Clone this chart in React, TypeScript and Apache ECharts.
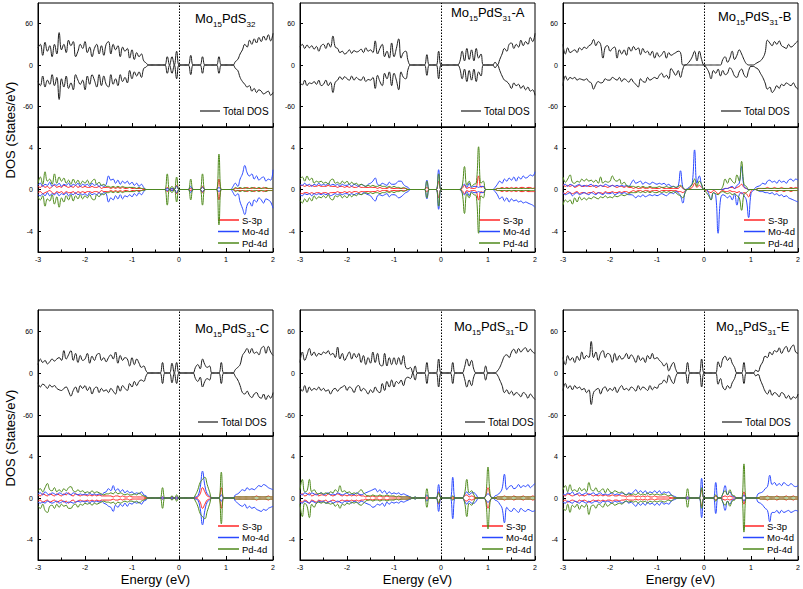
import React, { useEffect, useRef } from "react";
import * as echarts from "echarts";

const ENERGY = [-3,-2.95,-2.9,-2.85,-2.8,-2.75,-2.7,-2.65,-2.6,-2.55,-2.5,-2.45,-2.4,-2.35,-2.3,-2.25,-2.2,-2.15,-2.1,-2.05,-2,-1.95,-1.9,-1.85,-1.8,-1.75,-1.7,-1.65,-1.6,-1.55,-1.5,-1.45,-1.4,-1.35,-1.3,-1.25,-1.2,-1.15,-1.1,-1.05,-1,-0.95,-0.9,-0.85,-0.8,-0.75,-0.7,-0.65,-0.6,-0.55,-0.5,-0.45,-0.4,-0.35,-0.3,-0.25,-0.2,-0.15,-0.1,-0.05,0,0.05,0.1,0.15,0.2,0.25,0.3,0.35,0.4,0.45,0.5,0.55,0.6,0.65,0.7,0.75,0.8,0.85,0.9,0.95,1,1.05,1.1,1.15,1.2,1.25,1.3,1.35,1.4,1.45,1.5,1.55,1.6,1.65,1.7,1.75,1.8,1.85,1.9,1.95,2];

const X_TICKS = [-3, -2, -1, 0, 1, 2];
const TOT_TICKS = [-60, 0, 60];
const PDOS_TICKS = [-4, 0, 4];

// ---------- Mo15PdS32 ----------
const P1_TOT_UP = [25,30,14,33,20,28,12,30,16,47,22,30,18,36,28,34,12,20,30,24,34,18,26,12,24,30,16,28,14,30,34,16,30,22,28,12,26,20,24,10,22,8,18,12,16,6,3,0,0,0,0,0,0,0,0,12,0,12,0,20,0,0,0,0,0,14,0,0,0,0,12,0,0,0,0,0,0,12,0,0,0,0,0,0,5,8,16,22,30,26,36,30,38,32,40,34,42,36,44,35,46];
const P1_TOT_DN = [-24,-30,-16,-32,-22,-28,-14,-30,-18,-50,-20,-32,-16,-34,-26,-36,-14,-22,-28,-22,-36,-16,-28,-14,-22,-32,-14,-30,-16,-28,-32,-14,-28,-20,-30,-14,-24,-18,-26,-8,-20,-10,-16,-10,-18,-5,-3,0,0,0,0,0,0,0,0,-12,0,-12,0,-20,0,0,0,0,0,-14,0,0,0,0,-12,0,0,0,0,0,0,-12,0,0,0,0,0,0,-5,-8,-18,-24,-28,-32,-30,-38,-34,-40,-36,-38,-42,-40,-38,-44,-40];
const P1_S_UP = [0.3,0.2,0.4,0.2,0.3,0.1,0.3,0.4,0.2,0.3,0.2,0.4,0.3,0.2,0.3,0.2,0.4,0.2,0.3,0.2,0.3,0.2,0.2,0.3,0.2,0.2,0.3,0.1,0.2,0.2,0.2,0.1,0.2,0.1,0.2,0.1,0.2,0.1,0.1,0.2,0.1,0.1,0.1,0.1,0.1,0,0,0,0,0,0,0,0,0,0,0.2,0,0.1,0,0.4,0,0,0,0,0,0.1,0,0,0,0,0.3,0,0,0,0,0,0,1.0,0,0,0,0,0,0,0.1,0.1,0.1,0.1,0.1,0.2,0.1,0.1,0.2,0.1,0.1,0.1,0.2,0.1,0.1,0.1,0.1];
const P1_S_DN = [-0.3,-0.2,-0.4,-0.3,-0.2,-0.1,-0.3,-0.4,-0.2,-0.3,-0.2,-0.4,-0.2,-0.3,-0.3,-0.2,-0.4,-0.2,-0.3,-0.2,-0.3,-0.2,-0.2,-0.3,-0.2,-0.2,-0.3,-0.1,-0.2,-0.2,-0.2,-0.1,-0.2,-0.1,-0.2,-0.1,-0.2,-0.1,-0.1,-0.2,-0.1,-0.1,-0.1,-0.1,-0.1,0,0,0,0,0,0,0,0,0,0,-0.2,0,-0.1,0,-0.4,0,0,0,0,0,-0.1,0,0,0,0,-0.3,0,0,0,0,0,0,-1.0,0,0,0,0,0,0,-0.1,-0.1,-0.1,-0.1,-0.1,-0.2,-0.1,-0.1,-0.2,-0.1,-0.1,-0.1,-0.2,-0.1,-0.1,-0.1,-0.1];
const P1_MO_UP = [0.4,0.6,0.3,0.5,0.4,0.7,0.3,0.5,0.4,0.6,0.3,0.5,0.4,0.6,0.3,0.5,0.4,0.6,0.3,0.5,0.4,0.5,0.3,0.6,0.4,0.5,0.3,0.4,0.3,0.5,1.3,0.9,1.0,0.6,0.9,0.5,0.8,0.6,0.8,0.5,0.7,0.4,0.6,0.3,0.5,0.2,0,0,0,0,0,0,0,0,0,0.1,0,0.1,0,0.3,0,0,0,0,0,0.3,0,0,0,0,0.2,0,0,0,0,0,0,0.2,0,0,0,0,0,0.3,0.6,0.3,1.0,1.5,2.3,1.6,1.3,1.5,1.0,1.3,0.9,1.1,1.2,0.8,1.0,0.9,1.9];
const P1_MO_DN = [-0.5,-0.6,-0.4,-0.6,-0.3,-0.6,-0.4,-0.5,-0.3,-0.6,-0.4,-0.5,-0.3,-0.6,-0.4,-0.5,-0.3,-0.5,-0.4,-0.5,-0.4,-0.6,-0.3,-0.5,-0.4,-0.5,-0.3,-0.5,-0.3,-0.4,-1.2,-0.8,-1.0,-0.6,-0.9,-0.5,-0.9,-0.6,-0.7,-0.5,-0.7,-0.4,-0.6,-0.3,-0.5,-0.2,0,0,0,0,0,0,0,0,0,-0.1,0,-0.1,0,-0.3,0,0,0,0,0,-0.3,0,0,0,0,-0.2,0,0,0,0,0,0,-0.2,0,0,0,0,0,-0.3,-0.6,-0.4,-1.2,-1.8,-2.4,-1.5,-1.2,-1.6,-1.0,-1.2,-0.8,-1.0,-1.3,-0.9,-1.0,-1.2,-1.8];
const P1_PD_UP = [0.6,1.2,0.5,1.7,0.8,1.0,0.5,1.5,0.6,1.2,0.8,1.1,0.6,0.9,0.5,1.0,0.6,0.9,0.5,0.8,0.6,0.9,0.5,0.8,1.0,0.5,0.7,0.4,0.5,0.3,0.3,0.2,0.3,0.2,0.3,0.2,0.3,0.2,0.2,0.2,0.2,0.2,0.1,0.2,0.1,0.1,0,0,0,0,0,0,0,0,0,1.5,0,0.3,0,1.2,0,0,0,0,0,1.0,0,0,0,0,1.5,0,0,0,0,0,0,3.4,0,0,0,0,0,0,0.2,0.1,0.2,0.1,0.2,0.1,0.1,0.2,0.1,0.1,0.2,0.1,0.1,0.2,0.1,0.1,0.1];
const P1_PD_DN = [-0.7,-1.0,-0.6,-1.6,-0.9,-1.1,-0.5,-1.4,-0.7,-1.7,-0.8,-1.2,-0.6,-1.0,-0.5,-1.1,-0.6,-0.9,-0.5,-0.9,-0.6,-0.8,-0.5,-0.9,-1.0,-0.5,-0.7,-0.4,-0.5,-0.3,-0.3,-0.2,-0.3,-0.2,-0.3,-0.2,-0.3,-0.2,-0.2,-0.2,-0.2,-0.2,-0.1,-0.2,-0.1,-0.1,0,0,0,0,0,0,0,0,0,-1.5,0,-0.3,0,-1.2,0,0,0,0,0,-1.0,0,0,0,0,-1.5,0,0,0,0,0,0,-3.4,0,0,0,0,0,0,-0.2,-0.1,-0.2,-0.1,-0.2,-0.1,-0.1,-0.2,-0.1,-0.1,-0.2,-0.1,-0.1,-0.2,-0.1,-0.1,-0.1];

// ---------- Mo15PdS31-A ----------
const P2_TOT_UP = [26,30,24,29,25,28,23,27,20,28,30,24,32,26,42,26,24,18,20,16,18,22,17,21,19,20,23,18,25,20,22,18,35,16,24,30,12,20,10,32,12,24,38,10,18,20,6,0,0,0,0,0,0,0,15,0,0,0,0,20,0,0,0,0,0,0,0,0,5,20,6,24,8,22,6,24,10,16,0,0,0,0,0,4,0,8,16,24,20,30,32,24,30,26,36,28,34,30,40,34,46];
const P2_TOT_DN = [-25,-29,-22,-30,-26,-27,-24,-28,-22,-30,-28,-22,-30,-25,-40,-25,-22,-17,-21,-17,-20,-22,-16,-22,-18,-21,-22,-17,-24,-21,-22,-18,-34,-15,-24,-30,-12,-20,-10,-30,-12,-22,-36,-10,-18,-20,-6,0,0,0,0,0,0,0,-15,0,0,0,0,-20,0,0,0,0,0,0,0,0,-5,-20,-6,-24,-8,-22,-6,-24,-10,-16,0,0,0,0,0,-4,0,-8,-16,-22,-24,-28,-34,-26,-30,-28,-34,-30,-36,-32,-38,-36,-44];
const P2_S_UP = [0.3,0.4,0.3,0.4,0.3,0.4,0.3,0.3,0.4,0.3,0.3,0.3,0.4,0.3,0.3,0.3,0.2,0.3,0.3,0.2,0.3,0.2,0.3,0.2,0.2,0.3,0.2,0.2,0.2,0.2,0.2,0.2,0.2,0.1,0.2,0.1,0.1,0.1,0.2,0.1,0.1,0.1,0.1,0.1,0.1,0.1,0,0,0,0,0,0,0,0,0.2,0,0,0,0,0.8,0,0,0,0,0,0,0,0,0,0.1,0.4,0.1,0.2,0.1,0.1,0.2,1.3,0.2,0.3,0,0,0,0,0,0.1,0.1,0.2,0.1,0.2,0.1,0.2,0.1,0.2,0.1,0.2,0.2,0.1,0.2,0.2,0.1,0.2];
const P2_S_DN = [-0.3,-0.4,-0.3,-0.3,-0.4,-0.3,-0.4,-0.3,-0.3,-0.4,-0.3,-0.3,-0.4,-0.3,-0.3,-0.3,-0.2,-0.3,-0.3,-0.2,-0.3,-0.2,-0.3,-0.2,-0.2,-0.3,-0.2,-0.2,-0.2,-0.2,-0.2,-0.2,-0.2,-0.1,-0.2,-0.1,-0.1,-0.1,-0.2,-0.1,-0.1,-0.1,-0.1,-0.1,-0.1,-0.1,0,0,0,0,0,0,0,0,-0.2,0,0,0,0,-0.8,0,0,0,0,0,0,0,0,0,-0.1,-0.4,-0.1,-0.2,-0.1,-0.1,-0.2,-1.0,-0.2,-0.3,0,0,0,0,0,-0.1,-0.1,-0.2,-0.1,-0.2,-0.1,-0.2,-0.1,-0.2,-0.1,-0.2,-0.2,-0.1,-0.2,-0.2,-0.2,-0.2];
const P2_MO_UP = [0.5,0.4,0.6,0.4,0.5,0.3,0.5,0.4,0.6,0.4,0.5,0.4,0.6,0.4,0.5,0.4,0.5,0.3,0.5,0.4,0.4,0.5,0.3,0.5,0.4,0.3,0.5,0.4,0.3,0.5,0.6,0.8,1.1,0.5,0.4,0.6,0.5,0.4,0.7,0.5,0.5,0.6,0.8,0.8,0.5,0.3,0.2,0,0,0,0,0,0,0,0.9,0,0,0,0,1.9,0,0,0,0,0,0,0,0,0,0.3,0.5,0.2,0.6,0.2,0.3,0.3,0.2,0.3,0.3,0,0,0,0,0.2,0.5,0.8,0.6,1.0,0.8,1.1,0.9,1.2,0.8,1.2,1.0,1.3,1.1,1.2,1.4,1.3,1.7];
const P2_MO_DN = [-0.5,-0.6,-0.4,-0.5,-0.4,-0.6,-0.4,-0.5,-0.4,-0.5,-0.4,-0.5,-0.4,-0.6,-0.5,-0.4,-0.5,-0.4,-0.5,-0.4,-0.4,-0.5,-0.4,-0.5,-0.4,-0.4,-0.5,-0.3,-0.4,-0.5,-0.6,-0.9,-1.1,-0.6,-0.5,-0.6,-0.5,-0.4,-0.7,-0.5,-0.5,-0.6,-0.8,-0.7,-0.5,-0.3,-0.2,0,0,0,0,0,0,0,-0.9,0,0,0,0,-1.9,0,0,0,0,0,0,0,0,0,-0.3,-0.5,-0.2,-0.6,-0.2,-0.3,-0.3,-0.2,-0.3,-0.3,0,0,0,0,-0.2,-0.5,-0.9,-0.7,-1.1,-0.8,-1.2,-0.9,-1.1,-1.0,-1.2,-1.1,-1.3,-1.2,-1.3,-1.4,-1.5,-1.7];
const P2_PD_UP = [1.0,1.2,0.8,1.3,0.9,1.1,0.6,0.8,0.7,0.8,0.6,0.7,0.5,0.9,1.0,0.6,0.7,0.5,0.8,0.6,0.8,0.5,0.7,0.5,0.6,0.4,0.5,0.4,0.3,0.4,0.3,0.4,0.3,0.3,0.4,0.3,0.3,0.2,0.3,0.2,0.3,0.2,0.2,0.1,0.2,0.1,0,0,0,0,0,0,0,0,0.8,0,0,0,0,1.5,0,0,0,0,0,0,0,0,0,0.3,2.2,0.4,0.8,0.3,0.5,0.6,4.1,0.6,0.8,0,0,0,0,0,0.1,0.1,0.1,0.1,0.1,0.1,0.1,0.1,0.1,0.1,0.1,0.1,0.1,0.1,0.1,0.1,0.1];
const P2_PD_DN = [-1.0,-1.3,-0.9,-1.2,-0.8,-1.1,-0.6,-0.9,-0.7,-0.8,-0.6,-0.8,-0.5,-0.9,-1.0,-0.6,-0.7,-0.5,-0.8,-0.6,-0.8,-0.5,-0.7,-0.5,-0.6,-0.4,-0.5,-0.4,-0.3,-0.4,-0.3,-0.4,-0.3,-0.3,-0.4,-0.3,-0.3,-0.2,-0.3,-0.2,-0.3,-0.2,-0.2,-0.1,-0.2,-0.1,0,0,0,0,0,0,0,0,-0.8,0,0,0,0,-1.6,0,0,0,0,0,0,0,0,0,-0.3,-2.3,-0.4,-0.8,-0.3,-0.5,-0.6,-4.2,-0.6,-0.8,0,0,0,0,0,-0.1,-0.1,-0.1,-0.1,-0.1,-0.1,-0.1,-0.1,-0.1,-0.1,-0.1,-0.1,-0.1,-0.1,-0.1,-0.1,-0.1];

// ---------- Mo15PdS31-B ----------
const P3_TOT_UP = [30,16,25,18,20,22,18,25,22,26,24,28,30,37,28,34,30,10,26,28,20,24,26,10,22,16,22,14,26,20,27,22,25,15,24,18,20,14,20,10,18,12,15,20,10,18,14,16,18,20,18,0,0,2,6,12,20,6,20,8,0,0,0,0,0,0,0,0,8,12,4,10,20,8,14,22,16,8,2,0,0,0,2,4,6,10,18,36,32,28,34,30,35,28,26,24,30,26,28,32,35];
const P3_TOT_DN = [-30,-16,-22,-18,-20,-18,-22,-20,-21,-22,-20,-24,-26,-35,-28,-24,-26,-25,-20,-22,-22,-18,-20,-22,-18,-24,-20,-22,-25,-20,-25,-28,-32,-20,-24,-25,-18,-22,-20,-18,-20,-15,-12,-18,-15,-20,-5,-10,-15,-8,-18,-6,0,0,0,0,0,0,0,0,0,-4,-10,-20,-8,-12,-6,-16,-8,-14,-12,-4,-8,-16,-18,-10,-6,-14,-18,-8,-2,-2,-4,-6,-12,-18,-26,-35,-32,-40,-36,-30,-34,-28,-30,-26,-28,-30,-26,-32,-35];
const P3_S_UP = [0.5,0.3,0.4,0.3,0.4,0.2,0.3,0.4,0.3,0.3,0.4,0.3,0.3,0.4,0.2,0.3,0.4,0.3,0.3,0.2,0.3,0.4,0.3,0.2,0.3,0.3,0.2,0.3,0.2,0.2,0.1,0.2,0.1,0.1,0.2,0.1,0.1,0.2,0.1,0.1,0.1,0.1,0.2,0.1,0.1,0.1,0.1,0.1,0.1,0.1,0.3,0.1,0,0,0.1,0.2,0.6,0.2,0.4,0.2,0,0,0,0,0,0,0,0,0,0.1,0.1,0.2,0.2,0.1,0.2,0.3,0.5,0.2,0.1,0,0,0,0,0.1,0.1,0.1,0.1,0.2,0.1,0.1,0.2,0.1,0.1,0.2,0.1,0.1,0.1,0.2,0.1,0.2,0.1];
const P3_S_DN = [-0.3,-0.4,-0.2,-0.3,-0.4,-0.3,-0.2,-0.4,-0.3,-0.3,-0.4,-0.3,-0.3,-0.2,-0.4,-0.3,-0.3,-0.4,-0.2,-0.3,-0.3,-0.2,-0.3,-0.3,-0.2,-0.3,-0.2,-0.2,-0.3,-0.2,-0.1,-0.2,-0.1,-0.1,-0.2,-0.1,-0.1,-0.2,-0.1,-0.1,-0.1,-0.2,-0.1,-0.1,-0.1,-0.1,-0.1,-0.1,-0.1,-0.2,-0.2,-0.3,-0.1,0,0,0,0,0,0,0,0,-0.1,-0.2,-0.3,-0.1,-0.2,-0.4,-0.2,-0.1,-0.2,-0.2,-0.1,-0.2,-0.2,-0.3,-0.2,-0.4,-0.3,-0.4,-0.7,-0.2,0,0,-0.1,-0.1,-0.1,-0.1,-0.1,-0.1,-0.1,-0.1,-0.2,-0.1,-0.1,-0.2,-0.1,-0.1,-0.2,-0.1,-0.1,-0.1];
const P3_MO_UP = [0.4,0.5,0.3,0.5,0.4,0.3,0.4,0.5,0.3,0.4,0.3,0.4,0.5,0.3,0.4,0.3,0.4,0.3,0.5,0.4,0.3,0.4,0.3,0.4,0.3,0.4,0.3,0.4,0.3,0.6,0.9,0.6,0.7,0.8,0.5,0.7,0.6,0.5,0.7,0.6,0.5,0.6,0.5,0.6,0.4,0.5,0.3,0.3,0.2,0.3,1.8,0.2,0,0.1,0.3,0.6,3.8,0.6,1.3,0.4,0,0,0,0,0,0,0,0,0,0.1,0.1,0.2,0.3,0.1,0.4,0.6,2.2,0.3,0.1,0,0,0,0.2,0.3,0.4,0.6,0.5,0.8,0.9,0.7,0.8,0.6,0.9,0.7,0.8,0.6,0.9,1.0,0.8,1.0,0.9];
const P3_MO_DN = [-0.3,-0.5,-0.4,-0.3,-0.6,-0.4,-0.3,-0.5,-0.4,-0.3,-0.4,-0.5,-0.3,-0.4,-0.5,-0.3,-0.4,-0.5,-0.3,-0.4,-0.4,-0.3,-0.5,-0.4,-0.3,-0.4,-0.3,-0.4,-0.5,-0.5,-0.6,-0.8,-0.6,-0.7,-0.5,-0.7,-0.6,-0.5,-0.6,-0.5,-0.6,-0.5,-0.4,-0.5,-0.6,-0.4,-0.3,-0.4,-0.2,-0.3,-0.6,-1.3,-0.2,0,0,0,0,0,0,0,0,0,-0.4,-1.0,-0.3,-0.6,-4.2,-1.0,-0.5,-0.6,-0.8,-0.6,-1.0,-0.4,-1.5,-0.5,-0.3,-0.6,-1.0,-2.7,-0.4,-0.1,0,-0.1,-0.2,-0.2,-0.3,-0.3,-0.4,-0.3,-0.5,-0.4,-0.6,-0.5,-0.7,-0.6,-0.8,-0.9,-1.0,-1.1,-1.2];
const P3_PD_UP = [1.2,0.7,1.0,1.4,0.7,0.6,0.8,0.7,1.0,0.8,1.0,0.8,0.9,0.7,0.9,0.6,1.2,0.6,0.8,0.7,0.8,1.3,0.9,0.8,1.0,0.5,0.7,0.4,0.3,0.3,0.3,0.2,0.3,0.2,0.3,0.2,0.2,0.3,0.2,0.2,0.2,0.3,0.2,0.2,0.3,0.2,0.2,0.3,0.2,0.3,0.4,0.2,0,0,0.2,0.5,1.0,0.3,0.8,0.5,0,0,0,0,0,0,0,0,0.3,1.0,0.6,1.1,0.8,0.6,1.4,0.8,2.7,0.5,0.3,0,0,0,0,0.1,0.1,0.1,0.1,0.1,0.1,0.1,0.1,0.1,0.1,0.1,0.1,0.1,0.1,0.1,0.1,0.1,0.1];
const P3_PD_DN = [-1.5,-1.0,-1.2,-1.0,-1.4,-0.8,-1.2,-0.7,-1.0,-0.8,-1.0,-0.8,-0.9,-0.7,-0.8,-0.9,-0.7,-0.8,-0.6,-0.8,-0.7,-0.8,-0.6,-0.7,-0.6,-0.5,-0.6,-0.5,-0.4,-0.3,-0.3,-0.3,-0.2,-0.3,-0.2,-0.3,-0.2,-0.3,-0.2,-0.3,-0.3,-0.2,-0.3,-0.2,-0.3,-0.2,-0.3,-0.2,-0.3,-0.5,-0.6,-0.8,-0.3,0,0,0,0,0,0,0,0,-0.3,-0.6,-1.0,-0.3,-0.4,-0.5,-0.3,-0.2,-0.3,-0.4,-0.3,-0.5,-0.4,-0.6,-0.8,-2.0,-0.5,-0.3,-0.1,0,0,0,-0.1,-0.1,-0.1,-0.1,-0.1,-0.1,-0.1,-0.1,-0.1,-0.1,-0.1,-0.1,-0.1,-0.1,-0.1,-0.1,-0.1,-0.1];

// ---------- Mo15PdS31-C ----------
const P4_TOT_UP = [12,20,15,18,13,16,20,17,20,22,18,32,20,26,32,18,28,15,25,18,20,28,14,24,18,26,28,18,22,16,22,26,20,30,14,25,18,22,20,10,22,12,20,14,8,10,3,0,0,0,0,0,0,15,0,0,0,14,0,15,0,0,0,0,0,0,0,8,12,6,20,12,8,10,0,0,0,0,15,0,0,0,0,0,5,8,12,25,30,35,28,35,28,30,26,35,38,28,38,30,25];
const P4_TOT_DN = [-14,-20,-16,-18,-22,-17,-20,-18,-22,-24,-25,-22,-20,-26,-33,-25,-20,-28,-18,-22,-18,-25,-20,-30,-22,-20,-28,-22,-26,-24,-28,-22,-26,-30,-18,-26,-18,-22,-25,-15,-20,-12,-18,-12,-10,-12,-4,0,0,0,0,0,0,-15,0,0,0,-14,0,-15,0,0,0,0,0,0,0,-8,-12,-6,-20,-12,-8,-10,0,0,0,0,-15,0,0,0,0,0,-5,-10,-18,-28,-30,-26,-32,-35,-30,-28,-34,-36,-30,-38,-32,-36,-28];
const P4_S_UP = [0.3,0.2,0.4,0.3,0.2,0.4,0.3,0.2,0.4,0.3,0.2,0.4,0.3,0.5,0.3,0.2,0.4,0.3,0.2,0.3,0.3,0.2,0.3,0.2,0.3,0.2,0.3,0.2,0.2,0.2,0.2,0.2,0.1,0.2,0.2,0.1,0.2,0.1,0.1,0.2,0.1,0.1,0.1,0.1,0.1,0.1,0,0,0,0,0,0,0,0.1,0,0,0,0.1,0,0.1,0,0,0,0,0,0,0,0,0.1,0.4,1.0,0.6,0.2,0.1,0,0,0,0,1.0,0,0,0,0,0,0.1,0.1,0.1,0.1,0.1,0.1,0.1,0.1,0.1,0.2,0.1,0.1,0.1,0.1,0.2,0.1,0.1];
const P4_S_DN = [-0.3,-0.2,-0.4,-0.3,-0.2,-0.4,-0.3,-0.2,-0.4,-0.3,-0.2,-0.4,-0.3,-0.5,-0.3,-0.2,-0.4,-0.3,-0.2,-0.3,-0.3,-0.2,-0.3,-0.2,-0.3,-0.2,-0.3,-0.2,-0.2,-0.2,-0.2,-0.2,-0.1,-0.2,-0.2,-0.1,-0.2,-0.1,-0.1,-0.2,-0.1,-0.1,-0.1,-0.1,-0.1,-0.1,0,0,0,0,0,0,0,-0.1,0,0,0,-0.1,0,-0.1,0,0,0,0,0,0,0,0,-0.1,-0.4,-1.0,-0.6,-0.2,-0.1,0,0,0,0,-1.0,0,0,0,0,0,-0.1,-0.1,-0.1,-0.1,-0.1,-0.1,-0.1,-0.1,-0.1,-0.2,-0.1,-0.1,-0.1,-0.1,-0.2,-0.1,-0.1];
const P4_MO_UP = [0.4,0.5,0.3,0.6,0.4,0.3,0.5,0.4,0.3,0.5,0.4,0.3,0.5,0.4,0.3,0.5,0.4,0.3,0.4,0.3,0.4,0.3,0.5,0.3,0.4,0.3,0.4,0.3,0.5,0.6,0.9,0.7,1.2,0.7,0.9,0.6,0.8,0.5,0.7,0.5,0.6,0.4,0.5,0.4,0.6,0.3,0.2,0,0,0,0,0,0,0.1,0,0,0,0.1,0,0.1,0,0,0,0,0,0,0,0.1,0.2,1.0,2.6,1.2,0.4,0.2,0,0,0,0,0.3,0,0,0,0,0,0.3,0.4,0.6,0.8,0.7,1.0,0.8,0.9,0.8,1.0,1.2,1.1,1.3,1.2,1.0,0.9,0.8];
const P4_MO_DN = [-0.4,-0.5,-0.4,-0.5,-0.3,-0.4,-0.5,-0.4,-0.3,-0.5,-0.4,-0.3,-0.5,-0.4,-0.4,-0.5,-0.4,-0.3,-0.4,-0.3,-0.4,-0.3,-0.5,-0.3,-0.4,-0.3,-0.4,-0.3,-0.5,-0.6,-0.8,-0.9,-1.3,-0.7,-0.9,-0.6,-0.8,-0.5,-0.8,-0.5,-0.6,-0.4,-0.5,-0.4,-0.6,-0.3,-0.2,0,0,0,0,0,0,-0.1,0,0,0,-0.1,0,-0.1,0,0,0,0,0,0,0,-0.1,-0.2,-1.0,-2.6,-1.2,-0.4,-0.2,0,0,0,0,-0.3,0,0,0,0,0,-0.3,-0.5,-0.7,-0.8,-0.6,-1.0,-0.8,-1.0,-0.9,-1.1,-1.2,-1.3,-1.1,-1.2,-1.0,-0.9,-0.8];
const P4_PD_UP = [0.7,0.9,0.6,1.0,1.4,0.8,0.7,1.0,0.6,0.8,0.6,0.9,0.7,1.0,1.1,0.7,0.6,0.8,0.6,0.7,0.5,0.6,0.5,0.7,0.5,0.6,0.5,0.4,0.3,0.4,0.4,0.5,0.4,0.6,0.4,0.5,0.4,0.3,0.4,0.3,0.3,0.4,0.3,0.5,0.3,0.2,0.1,0,0,0,0,0,0,1.0,0,0,0,0.2,0,0.3,0,0,0,0,0,0,0,0.3,0.8,1.5,1.8,2.0,1.3,0.6,0,0,0,0,2.5,0,0,0,0,0,0.1,0.1,0.1,0.1,0.1,0.1,0.1,0.1,0.1,0.1,0.1,0.1,0.1,0.1,0.1,0.1,0.1];
const P4_PD_DN = [-0.8,-1.0,-0.6,-1.2,-1.4,-0.8,-0.7,-1.0,-0.6,-0.9,-0.6,-0.8,-0.7,-1.0,-1.0,-0.7,-0.6,-0.9,-0.6,-0.7,-0.5,-0.6,-0.5,-0.7,-0.5,-0.6,-0.5,-0.4,-0.3,-0.4,-0.4,-0.5,-0.4,-0.6,-0.4,-0.5,-0.4,-0.3,-0.4,-0.3,-0.3,-0.4,-0.3,-0.5,-0.3,-0.2,-0.1,0,0,0,0,0,0,-1.0,0,0,0,-0.2,0,-0.3,0,0,0,0,0,0,0,-0.3,-0.8,-1.5,-1.8,-2.0,-1.3,-0.6,0,0,0,0,-2.5,0,0,0,0,0,-0.1,-0.1,-0.1,-0.1,-0.1,-0.1,-0.1,-0.1,-0.1,-0.1,-0.1,-0.1,-0.1,-0.1,-0.1,-0.1,-0.1];

// ---------- Mo15PdS31-D ----------
const P5_TOT_UP = [15,30,18,26,35,25,30,24,28,26,30,28,32,26,28,22,37,20,28,18,24,30,20,28,22,28,15,25,12,22,14,30,15,28,12,10,28,10,22,12,22,12,22,12,25,8,6,8,0,10,0,0,0,0,15,0,0,0,0,20,0,0,0,0,0,15,0,0,0,0,8,20,10,18,5,0,0,0,0,10,0,0,0,0,3,8,16,24,26,22,30,34,28,35,30,34,36,30,34,30,28];
const P5_TOT_DN = [-20,-26,-18,-28,-20,-25,-22,-24,-20,-25,-22,-26,-24,-30,-24,-22,-26,-22,-20,-18,-25,-20,-22,-28,-20,-18,-26,-22,-25,-30,-24,-28,-20,-26,-28,-15,-25,-12,-20,-10,-20,-12,-15,-10,-18,-8,-6,-8,0,-10,0,0,0,0,-15,0,0,0,0,-20,0,0,0,0,0,-15,0,0,0,0,-8,-20,-10,-18,-5,0,0,0,0,-10,0,0,0,0,-3,-10,-18,-28,-24,-30,-26,-32,-28,-30,-34,-28,-30,-36,-30,-34,-38];
const P5_S_UP = [0.3,0.4,0.2,0.3,0.5,0.2,0.3,0.4,0.2,0.3,0.3,0.2,0.4,0.3,0.2,0.3,0.4,0.3,0.2,0.3,0.2,0.3,0.2,0.3,0.2,0.3,0.2,0.2,0.1,0.2,0.1,0.2,0.1,0.1,0.2,0.1,0.1,0.2,0.1,0.1,0.1,0.1,0.1,0.1,0.1,0.1,0.1,0,0,0,0,0,0,0,0.1,0,0,0,0,0.6,0,0,0,0,0,0.1,0,0,0,0,0.2,0.3,0.1,0.2,0.1,0,0,0,0,0.2,1.0,0.2,0,0,0.1,0.1,0.1,0.2,0.1,0.1,0.1,0.2,0.1,0.1,0.1,0.2,0.1,0.1,0.1,0.2,0.1];
const P5_S_DN = [-0.3,-0.4,-0.2,-0.3,-0.5,-0.2,-0.3,-0.4,-0.2,-0.3,-0.3,-0.2,-0.4,-0.3,-0.2,-0.3,-0.4,-0.3,-0.2,-0.3,-0.2,-0.3,-0.2,-0.3,-0.2,-0.3,-0.2,-0.2,-0.1,-0.2,-0.1,-0.2,-0.1,-0.1,-0.2,-0.1,-0.1,-0.2,-0.1,-0.1,-0.1,-0.1,-0.1,-0.1,-0.1,-0.1,-0.1,0,0,0,0,0,0,0,-0.1,0,0,0,0,-0.6,0,0,0,0,0,-0.1,0,0,0,0,-0.2,-0.3,-0.1,-0.2,-0.1,0,0,0,0,-0.2,-1.0,-0.2,0,0,-0.1,-0.1,-0.1,-0.2,-0.1,-0.1,-0.1,-0.2,-0.1,-0.1,-0.1,-0.2,-0.1,-0.1,-0.1,-0.2,-0.1];
const P5_MO_UP = [0.4,0.3,0.5,0.4,0.3,0.5,0.4,0.3,0.4,0.5,0.3,0.4,0.5,0.3,0.4,0.3,0.5,0.4,0.3,0.4,0.5,0.3,0.4,0.3,0.5,0.4,0.3,0.4,0.5,0.6,0.7,0.8,0.9,0.6,0.8,0.5,0.7,0.4,0.6,0.4,0.5,0.4,0.5,0.3,0.4,0.3,0.2,0.1,0,0.1,0,0,0,0,0.3,0,0,0,0,1.3,0,0,0,0,0,2.0,0,0,0,0,0.3,0.6,0.3,0.5,0.5,0.3,0,0,0,0.2,0.4,0.2,0,0.2,0.3,0.5,0.9,2.3,0.8,1.1,1.2,0.9,1.0,1.3,1.0,1.2,1.1,1.3,1.0,1.2,1.4];
const P5_MO_DN = [-0.4,-0.5,-0.3,-0.4,-0.5,-0.3,-0.4,-0.5,-0.3,-0.4,-0.3,-0.5,-0.4,-0.3,-0.5,-0.4,-0.3,-0.4,-0.5,-0.3,-0.4,-0.3,-0.5,-0.3,-0.4,-0.5,-0.3,-0.4,-0.5,-0.6,-0.7,-0.9,-0.8,-0.6,-0.7,-0.5,-0.8,-0.4,-0.6,-0.4,-0.5,-0.4,-0.5,-0.3,-0.4,-0.3,-0.2,-0.1,0,-0.1,0,0,0,0,-0.3,0,0,0,0,-1.3,0,0,0,0,0,-2.0,0,0,0,0,-0.3,-0.6,-0.3,-0.5,-0.5,-0.3,0,0,0,-0.2,-0.4,-0.2,0,-0.2,-0.3,-0.6,-1.0,-2.4,-0.9,-1.2,-1.3,-1.0,-1.2,-1.4,-1.0,-1.2,-1.3,-1.1,-1.2,-1.3,-1.2];
const P5_PD_UP = [0.8,1.8,0.6,0.7,1.8,0.6,0.8,0.5,0.4,0.5,0.4,0.5,0.4,0.6,0.5,0.8,0.6,1.2,0.6,0.7,0.5,0.6,0.4,0.5,0.4,0.6,0.8,0.5,0.3,0.2,0.2,0.3,0.2,0.2,0.3,0.2,0.2,0.3,0.2,0.2,0.2,0.1,0.2,0.1,0.1,0.1,0.1,0.1,0,0.1,0,0,0,0,0.9,0,0,0,0,0.5,0,0,0,0,0,0.2,0,0,0,0,0.4,1.8,0.5,0.7,0.3,0,0,0,0,0.2,3.0,0.2,0,0,0.1,0.1,0.1,0.1,0.1,0.1,0.1,0.1,0.1,0.1,0.1,0.1,0.1,0.1,0.1,0.1,0.1];
const P5_PD_DN = [-0.6,-1.8,-0.5,-0.8,-1.9,-0.6,-0.9,-0.5,-0.4,-0.5,-0.4,-0.5,-0.5,-0.6,-0.5,-0.8,-0.6,-1.0,-0.6,-0.7,-0.5,-0.6,-0.4,-0.5,-0.4,-0.6,-0.7,-0.5,-0.3,-0.2,-0.2,-0.3,-0.2,-0.2,-0.3,-0.2,-0.2,-0.3,-0.2,-0.2,-0.2,-0.1,-0.2,-0.1,-0.1,-0.1,-0.1,-0.1,0,-0.1,0,0,0,0,-0.9,0,0,0,0,-0.5,0,0,0,0,0,-0.2,0,0,0,0,-0.4,-1.8,-0.5,-0.7,-0.3,0,0,0,0,-0.2,-3.0,-0.2,0,0,-0.1,-0.1,-0.1,-0.1,-0.1,-0.1,-0.1,-0.1,-0.1,-0.1,-0.1,-0.1,-0.1,-0.1,-0.1,-0.1,-0.1];

// ---------- Mo15PdS31-E ----------
const P6_TOT_UP = [22,12,25,18,22,15,24,18,30,20,25,22,45,22,30,18,28,32,22,28,26,15,28,18,25,20,22,28,20,26,22,15,25,18,22,15,25,20,28,20,22,18,15,10,14,3,10,15,5,0,0,0,0,15,0,0,0,0,0,20,0,0,0,0,0,0,16,8,20,24,18,22,14,8,0,0,0,15,0,0,0,0,4,2,10,16,24,22,30,26,32,30,36,28,34,38,30,36,40,30,28];
const P6_TOT_DN = [-25,-15,-22,-18,-24,-18,-22,-20,-24,-22,-28,-24,-45,-28,-24,-22,-30,-22,-20,-26,-22,-25,-20,-28,-22,-18,-24,-22,-25,-20,-22,-26,-18,-24,-20,-22,-25,-18,-24,-20,-22,-16,-15,-10,-14,-3,-10,-15,-5,0,0,0,0,-15,0,0,0,0,0,-20,0,0,0,0,0,0,-16,-8,-20,-24,-18,-22,-14,-8,0,0,0,-15,0,0,0,0,-4,-2,-10,-18,-26,-30,-24,-32,-28,-30,-34,-28,-30,-36,-32,-38,-34,-36,-30];
const P6_S_UP = [0.3,0.2,0.4,0.3,0.2,0.3,0.4,0.2,0.3,0.2,0.3,0.4,0.3,0.2,0.3,0.2,0.3,0.2,0.3,0.2,0.2,0.3,0.2,0.2,0.3,0.2,0.2,0.1,0.2,0.2,0.2,0.1,0.2,0.1,0.2,0.1,0.2,0.1,0.1,0.2,0.1,0.1,0.1,0.1,0.1,0.1,0,0,0,0,0,0,0,0.1,0,0,0,0,0,0.8,0,0,0,0,0,0.2,0,0,0.1,0.2,0.1,0.2,0.1,0.1,0,0,0,0.6,0,0,0,0,0,0,0.1,0.1,0.1,0.2,0.1,0.1,0.1,0.2,0.1,0.1,0.1,0.2,0.1,0.1,0.2,0.1,0.1];
const P6_S_DN = [-0.3,-0.2,-0.4,-0.3,-0.2,-0.3,-0.4,-0.2,-0.3,-0.2,-0.3,-0.4,-0.3,-0.2,-0.3,-0.2,-0.3,-0.2,-0.3,-0.2,-0.2,-0.3,-0.2,-0.2,-0.3,-0.2,-0.2,-0.1,-0.2,-0.2,-0.2,-0.1,-0.2,-0.1,-0.2,-0.1,-0.2,-0.1,-0.1,-0.2,-0.1,-0.1,-0.1,-0.1,-0.1,-0.1,0,0,0,0,0,0,0,-0.1,0,0,0,0,0,-0.8,0,0,0,0,0,-0.2,0,0,-0.1,-0.2,-0.1,-0.2,-0.1,-0.1,0,0,0,-0.6,0,0,0,0,0,0,-0.1,-0.1,-0.1,-0.2,-0.1,-0.1,-0.1,-0.2,-0.1,-0.1,-0.1,-0.2,-0.1,-0.1,-0.2,-0.1,-0.1];
const P6_MO_UP = [0.4,0.3,0.5,0.4,0.6,0.3,0.4,0.5,0.3,0.4,0.5,0.3,0.4,0.5,0.3,0.4,0.5,0.3,0.4,0.3,0.4,0.5,0.3,0.4,0.3,0.5,0.4,0.3,0.5,0.4,0.6,0.8,0.5,0.7,0.5,0.7,0.4,0.6,0.5,0.7,0.5,0.7,0.4,0.6,0.5,0.6,0.3,0.2,0.1,0,0,0,0,0.1,0,0,0,0,0,1.9,0,0,0,0,0,1.5,0,0,0.4,1.2,0.3,0.6,0.2,0.1,0,0,0,0.3,0,0,0,0,0,0.4,0.5,0.6,0.9,1.1,2.2,1.3,1.5,1.2,1.4,1.2,1.5,1.3,1.2,1.4,1.2,1.1,1.2];
const P6_MO_DN = [-0.4,-0.5,-0.3,-0.4,-0.5,-0.3,-0.4,-0.5,-0.3,-0.4,-0.5,-0.3,-0.5,-0.4,-0.3,-0.4,-0.5,-0.3,-0.4,-0.3,-0.4,-0.5,-0.3,-0.4,-0.3,-0.5,-0.4,-0.3,-0.5,-0.4,-0.6,-0.8,-0.5,-0.7,-0.5,-0.7,-0.4,-0.6,-0.5,-0.7,-0.5,-0.7,-0.4,-0.6,-0.5,-0.6,-0.3,-0.2,-0.1,0,0,0,0,-0.1,0,0,0,0,0,-1.9,0,0,0,0,0,-1.5,0,0,-0.4,-1.2,-0.3,-0.6,-0.2,-0.1,0,0,0,-0.3,0,0,0,0,0,-0.4,-0.5,-0.7,-1.0,-1.2,-2.3,-1.4,-1.4,-1.2,-1.5,-1.2,-1.4,-1.3,-1.2,-1.4,-1.3,-1.2,-1.3];
const P6_PD_UP = [0.8,1.2,0.6,1.3,0.7,0.8,0.6,1.0,0.7,0.9,0.6,1.5,0.8,0.7,1.0,0.6,0.7,0.9,0.5,0.9,0.6,0.5,0.7,0.6,0.5,0.6,0.4,0.3,0.4,0.3,0.4,0.3,0.5,0.3,0.4,0.3,0.5,0.3,0.4,0.3,0.4,0.3,0.3,0.4,0.3,0.2,0.3,0.1,0,0,0,0,0,0.9,0,0,0,0,0,1.0,0,0,0,0,0,0.3,0,0,0.4,0.7,0.3,0.8,0.3,0.2,0,0,0,3.3,0,0,0,0,0,0,0.1,0.1,0.1,0.1,0.1,0.1,0.1,0.1,0.1,0.1,0.1,0.1,0.1,0.1,0.1,0.1,0.1];
const P6_PD_DN = [-1.0,-1.2,-0.6,-1.4,-0.7,-0.9,-0.6,-1.1,-0.7,-0.9,-0.6,-1.6,-0.8,-0.7,-1.0,-0.6,-0.7,-0.9,-0.5,-0.8,-0.6,-0.5,-0.7,-0.6,-0.5,-0.6,-0.4,-0.3,-0.4,-0.3,-0.4,-0.3,-0.5,-0.3,-0.4,-0.3,-0.5,-0.3,-0.4,-0.3,-0.4,-0.3,-0.3,-0.4,-0.3,-0.2,-0.3,-0.1,0,0,0,0,0,-0.9,0,0,0,0,0,-1.0,0,0,0,0,0,-0.3,0,0,-0.4,-0.7,-0.3,-0.8,-0.3,-0.2,0,0,0,-3.3,0,0,0,0,0,0,-0.1,-0.1,-0.1,-0.1,-0.1,-0.1,-0.1,-0.1,-0.1,-0.1,-0.1,-0.1,-0.1,-0.1,-0.1,-0.1,-0.1];

const FONT = 'Arial, "Liberation Sans", Helvetica, sans-serif';
const C_TOT = "#1c1c1c";
const C_S = "#ff2626";
const C_MO = "#2a48ff";
const C_PD = "#4f8a1c";

const COL_LEFT = [38, 300, 563];
const PLOT_W = 235;
const ROWS = [
  { top: 3, split: 127, bottom: 252, totLegY: 111, pdLegY: [220, 231.5, 243], yLab: 130, eLab: 0 },
  { top: 310, split: 436, bottom: 560, totLegY: 422, pdLegY: [526, 537.5, 549], yLab: 438, eLab: 579 },
];

const PANELS = [
  { col: 0, row: 0, sub: ["15", "32"], suffix: "", tx: 195, ty: 12, totLeg: 200, pdLeg: 218, tot: [P1_TOT_UP, P1_TOT_DN], s: [P1_S_UP, P1_S_DN], mo: [P1_MO_UP, P1_MO_DN], pd: [P1_PD_UP, P1_PD_DN] },
  { col: 1, row: 0, sub: ["15", "31"], suffix: "-A", tx: 451, ty: 6, totLeg: 461, pdLeg: 479, tot: [P2_TOT_UP, P2_TOT_DN], s: [P2_S_UP, P2_S_DN], mo: [P2_MO_UP, P2_MO_DN], pd: [P2_PD_UP, P2_PD_DN] },
  { col: 2, row: 0, sub: ["15", "31"], suffix: "-B", tx: 718, ty: 10, totLeg: 721, pdLeg: 744, tot: [P3_TOT_UP, P3_TOT_DN], s: [P3_S_UP, P3_S_DN], mo: [P3_MO_UP, P3_MO_DN], pd: [P3_PD_UP, P3_PD_DN] },
  { col: 0, row: 1, sub: ["15", "31"], suffix: "-C", tx: 195, ty: 322, totLeg: 198, pdLeg: 218, tot: [P4_TOT_UP, P4_TOT_DN], s: [P4_S_UP, P4_S_DN], mo: [P4_MO_UP, P4_MO_DN], pd: [P4_PD_UP, P4_PD_DN] },
  { col: 1, row: 1, sub: ["15", "31"], suffix: "-D", tx: 454, ty: 320, totLeg: 465, pdLeg: 482, tot: [P5_TOT_UP, P5_TOT_DN], s: [P5_S_UP, P5_S_DN], mo: [P5_MO_UP, P5_MO_DN], pd: [P5_PD_UP, P5_PD_DN] },
  { col: 2, row: 1, sub: ["15", "31"], suffix: "-E", tx: 716, ty: 320, totLeg: 722, pdLeg: 743, tot: [P6_TOT_UP, P6_TOT_DN], s: [P6_S_UP, P6_S_DN], mo: [P6_MO_UP, P6_MO_DN], pd: [P6_PD_UP, P6_PD_DN] },
];

function buildOption() {
  const grid: any[] = [];
  const xAxis: any[] = [];
  const yAxis: any[] = [];
  const series: any[] = [];
  const graphic: any[] = [];

  const zeroLine = {
    silent: true,
    symbol: ["none", "none"],
    label: { show: false },
    lineStyle: { type: [1.5, 1.5], color: "#000", width: 1 },
    data: [{ xAxis: 0 }],
  };

  const mkLine = (arr: number[], color: string, idx: number, withMark: boolean) => ({
    type: "line",
    xAxisIndex: idx,
    yAxisIndex: idx,
    data: ENERGY.map((e, i) => [e, arr[i]]),
    symbol: "none",
    showSymbol: false,
    smooth: 0.45,
    silent: true,
    lineStyle: { width: 1, color },
    itemStyle: { color },
    ...(withMark ? { markLine: zeroLine } : {}),
  });

  PANELS.forEach((p, k) => {
    const r = ROWS[p.row];
    const left = COL_LEFT[p.col];
    const right = left + PLOT_W;
    const gTop = 2 * k;
    const gBot = 2 * k + 1;
    grid.push({ left, top: r.top, width: PLOT_W, height: r.split - r.top, show: true, borderColor: "#000", borderWidth: 1, containLabel: false });
    grid.push({ left, top: r.split, width: PLOT_W, height: r.bottom - r.split, show: true, borderColor: "#000", borderWidth: 1, containLabel: false });

    [gTop, gBot].forEach((gi, j) => {
      xAxis.push({
        type: "value",
        gridIndex: gi,
        min: -3,
        max: 2,
        interval: 1,
        axisLine: { show: true, onZero: false, lineStyle: { color: "#000", width: 1 } },
        axisTick: { show: true, inside: true, length: 4, lineStyle: { color: "#000", width: 1 } },
        minorTick: { show: true, splitNumber: 2, length: 2.5, lineStyle: { color: "#000", width: 1 } },
        axisLabel: { show: j === 1, fontSize: 7, color: "#000", fontFamily: FONT, margin: 4, customValues: X_TICKS },
        splitLine: { show: false },
        minorSplitLine: { show: false },
      });
      const isTot = j === 0;
      yAxis.push({
        type: "value",
        gridIndex: gi,
        min: isTot ? -90 : -6,
        max: isTot ? 90 : 6,
        axisLine: { show: true, onZero: false, lineStyle: { color: "#000", width: 1 } },
        axisTick: { show: true, inside: true, length: 3, customValues: isTot ? TOT_TICKS : PDOS_TICKS, lineStyle: { color: "#000" } },
        axisLabel: { show: true, fontSize: 7, color: "#000", fontFamily: FONT, margin: 5, customValues: isTot ? TOT_TICKS : PDOS_TICKS },
        splitLine: { show: false },
      });
    });

    series.push(mkLine(p.tot[0], C_TOT, gTop, true));
    series.push(mkLine(p.tot[1], C_TOT, gTop, false));
    series.push(mkLine(p.s[0], C_S, gBot, true));
    series.push(mkLine(p.s[1], C_S, gBot, false));
    series.push(mkLine(p.mo[0], C_MO, gBot, false));
    series.push(mkLine(p.mo[1], C_MO, gBot, false));
    series.push(mkLine(p.pd[0], C_PD, gBot, false));
    series.push(mkLine(p.pd[1], C_PD, gBot, false));

    // title
    graphic.push({
      type: "text",
      x: p.tx,
      y: p.ty,
      silent: true,
      style: {
        text: `{a|Mo}{b|${p.sub[0]}}{a|PdS}{b|${p.sub[1]}}` + (p.suffix ? `{a|${p.suffix}}` : ""),
        fontFamily: FONT,
        rich: {
          a: { fontSize: 13, fontFamily: FONT, fill: "#000", lineHeight: 16, verticalAlign: "top" },
          b: { fontSize: 8, fontFamily: FONT, fill: "#000", lineHeight: 10, padding: [8, 0, 0, 0], verticalAlign: "top" },
        },
      },
    });

    // Total DOS legend
    graphic.push({ type: "line", silent: true, shape: { x1: p.totLeg, y1: r.totLegY, x2: p.totLeg + 20, y2: r.totLegY }, style: { stroke: C_TOT, lineWidth: 1.2 } });
    graphic.push({ type: "text", silent: true, x: p.totLeg + 23, y: r.totLegY, style: { text: "Total DOS", fontSize: 10, fontFamily: FONT, fill: "#000", verticalAlign: "middle", align: "left" } });

    // PDOS legend
    const names = ["S-3p", "Mo-4d", "Pd-4d"];
    const cols = [C_S, C_MO, C_PD];
    names.forEach((nm, q) => {
      const y = r.pdLegY[q];
      graphic.push({ type: "line", silent: true, shape: { x1: p.pdLeg, y1: y, x2: p.pdLeg + 21, y2: y }, style: { stroke: cols[q], lineWidth: 1.5 } });
      graphic.push({ type: "text", silent: true, x: p.pdLeg + 24, y, style: { text: nm, fontSize: 9.5, fontFamily: FONT, fill: "#000", verticalAlign: "middle", align: "left" } });
    });

    if (p.row === 1) {
      graphic.push({ type: "text", silent: true, x: (left + right) / 2, y: r.eLab, style: { text: "Energy (eV)", fontSize: 13, fontFamily: FONT, fill: "#000", align: "center", verticalAlign: "middle" } });
    }
  });

  ROWS.forEach((r) => {
    graphic.push({
      type: "text",
      silent: true,
      x: 10,
      y: r.yLab,
      rotation: Math.PI / 2,
      style: { text: "DOS (States/eV)", fontSize: 13, fontFamily: FONT, fill: "#000", align: "center", verticalAlign: "middle" },
    });
  });

  return {
    animation: false,
    backgroundColor: "#fff",
    grid,
    xAxis,
    yAxis,
    series,
    graphic,
  };
}

export default function App() {
  const ref = useRef<HTMLDivElement>(null);
  useEffect(() => {
    if (!ref.current) return;
    const chart = echarts.init(ref.current, undefined, { renderer: "svg" });
    chart.setOption(buildOption() as any);
    return () => chart.dispose();
  }, []);
  return <div ref={ref} style={{ position: "fixed", left: 0, top: 0, width: 803, height: 589, background: "#fff" }} />;
}
